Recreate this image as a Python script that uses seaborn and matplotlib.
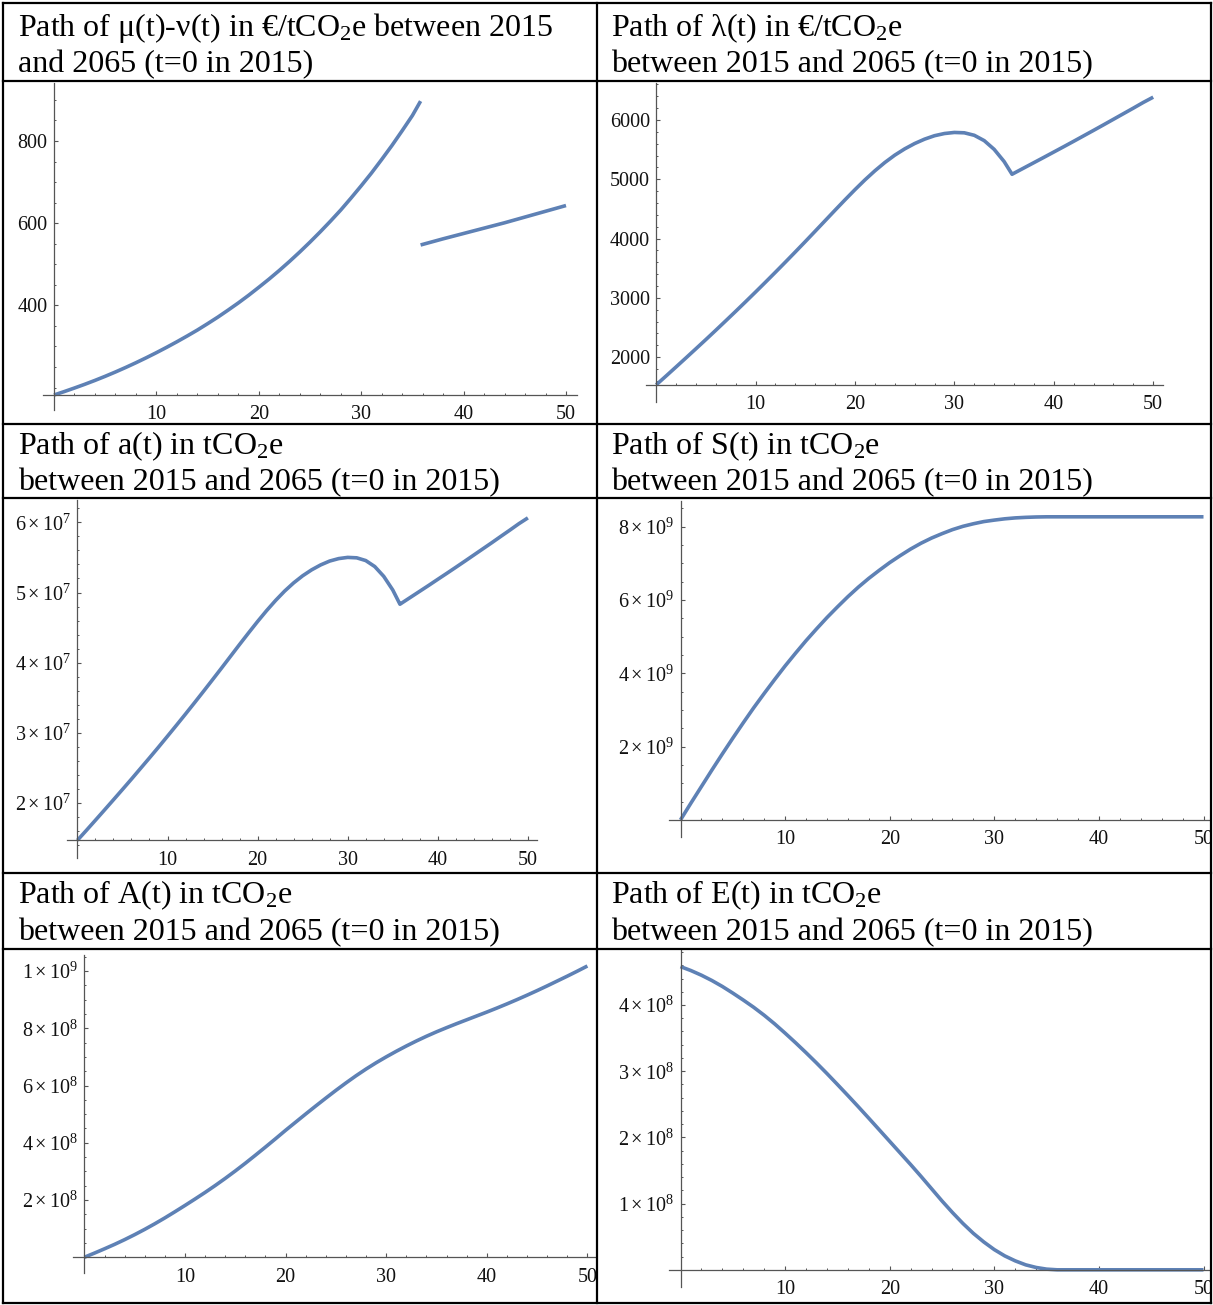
import matplotlib
matplotlib.use("Agg")
import matplotlib.pyplot as plt
import seaborn as sns
from matplotlib.lines import Line2D
from matplotlib.patches import Rectangle

# ---------------- data (t = years after 2015) ----------------
# mu(t) - nu(t), EUR/tCO2e : two branches with a jump near t = 35.8
mn_t1 = list(range(0, 36)) + [35.8]
mn_v1 = [182, 190.3, 199, 208, 217.5, 227.5, 238, 249, 260.5, 272.5, 285, 298, 311.5, 325.5,
         340, 355.5, 371.5, 388.5, 406, 424.5, 444, 464, 485, 507, 530, 554, 579, 605, 632,
         661, 691, 722, 755, 789, 825, 862, 897]
mn_t2 = [35.8, 38, 40, 42, 44, 46, 48, 50]
mn_v2 = [547, 562, 575, 588, 601, 615, 629, 643]

# lambda(t), EUR/tCO2e : kink at t = 35.8
lam_t = list(range(0, 36)) + [35.8] + list(range(36, 51))
lam_v = [1534, 1684, 1836, 1989, 2143, 2298, 2455, 2614, 2774, 2936, 3100, 3266, 3434, 3604,
         3776, 3950, 4126, 4303, 4480, 4655, 4826, 4990, 5143, 5283, 5407, 5513, 5603, 5677,
         5735, 5772, 5790, 5784, 5742, 5652, 5505, 5300, 5085,
         5103, 5192, 5281, 5370, 5460, 5550, 5641, 5733, 5825, 5918, 6012, 6106, 6200, 6296,
         6385]

# a(t), tCO2e
a_t = lam_t
a_v = [1.470e7, 1.612e7, 1.756e7, 1.901e7, 2.047e7, 2.194e7, 2.342e7, 2.493e7, 2.644e7,
       2.797e7, 2.953e7, 3.110e7, 3.269e7, 3.430e7, 3.593e7, 3.758e7, 3.924e7, 4.092e7,
       4.260e7, 4.425e7, 4.587e7, 4.742e7, 4.887e7, 5.020e7, 5.137e7, 5.238e7, 5.323e7,
       5.393e7, 5.448e7, 5.483e7, 5.500e7, 5.494e7, 5.455e7, 5.370e7, 5.230e7, 5.036e7,
       4.833e7,
       4.850e7, 4.934e7, 5.018e7, 5.102e7, 5.188e7, 5.273e7, 5.359e7, 5.446e7, 5.534e7,
       5.622e7, 5.710e7, 5.800e7, 5.889e7, 5.980e7, 6.063e7]

# S(t), tCO2e
s_t = list(range(0, 37)) + [40, 45, 50]
s_v = [0, 0.46e9, 0.91e9, 1.36e9, 1.80e9, 2.23e9, 2.65e9, 3.06e9, 3.45e9, 3.83e9, 4.20e9,
       4.55e9, 4.89e9, 5.21e9, 5.52e9, 5.81e9, 6.09e9, 6.35e9, 6.59e9, 6.81e9, 7.02e9,
       7.21e9, 7.39e9, 7.55e9, 7.69e9, 7.81e9, 7.92e9, 8.01e9, 8.08e9, 8.14e9, 8.18e9,
       8.215e9, 8.24e9, 8.255e9, 8.265e9, 8.27e9, 8.27e9, 8.27e9, 8.27e9, 8.27e9]

# A(t), tCO2e
A_t = list(range(0, 51))
A_v = [0, 0.145e8, 0.295e8, 0.45e8, 0.615e8, 0.79e8, 0.975e8, 1.17e8, 1.375e8, 1.59e8,
       1.81e8, 2.035e8, 2.265e8, 2.505e8, 2.755e8, 3.015e8, 3.285e8, 3.565e8, 3.85e8, 4.14e8,
       4.435e8, 4.72e8, 5.005e8, 5.285e8, 5.56e8, 5.83e8, 6.09e8, 6.34e8, 6.575e8, 6.795e8,
       7.0e8, 7.195e8, 7.38e8, 7.555e8, 7.72e8, 7.875e8, 8.02e8, 8.16e8, 8.295e8, 8.43e8,
       8.565e8, 8.705e8, 8.85e8, 9.0e8, 9.155e8, 9.315e8, 9.48e8, 9.65e8, 9.82e8, 9.995e8,
       10.175e8]

# E(t), tCO2e
E_t = list(range(0, 37)) + [40, 45, 50]
E_v = [4.58e8, 4.52e8, 4.45e8, 4.37e8, 4.28e8, 4.18e8, 4.075e8, 3.965e8, 3.845e8, 3.715e8,
       3.575e8, 3.43e8, 3.28e8, 3.125e8, 2.965e8, 2.80e8, 2.633e8, 2.463e8, 2.29e8, 2.115e8,
       1.94e8, 1.765e8, 1.59e8, 1.41e8, 1.225e8, 1.04e8, 0.865e8, 0.70e8, 0.55e8, 0.42e8,
       0.305e8, 0.21e8, 0.135e8, 0.075e8, 0.035e8, 0.01e8, 0, 0, 0, 0]

titles = [
    ["Path of μ(t)-ν(t) in €/tCO$_2$e between 2015", "and 2065 (t=0 in 2015)"],
    ["Path of λ(t) in €/tCO$_2$e", "between 2015 and 2065 (t=0 in 2015)"],
    ["Path of a(t) in tCO$_2$e", "between 2015 and 2065 (t=0 in 2015)"],
    ["Path of S(t) in tCO$_2$e", "between 2015 and 2065 (t=0 in 2015)"],
    ["Path of A(t) in tCO$_2$e", "between 2015 and 2065 (t=0 in 2015)"],
    ["Path of E(t) in tCO$_2$e", "between 2015 and 2065 (t=0 in 2015)"],
]

x_major = [10, 20, 30, 40, 50]

# ---------------- style ----------------
W, H = 1213, 1305
LINE_C = "#5E81B5"
AX_C = "#555555"

sns.set_theme(style="white")
plt.rcParams["font.family"] = ["Liberation Serif", "DejaVu Serif"]
plt.rcParams["mathtext.fontset"] = "custom"
plt.rcParams["mathtext.rm"] = "Liberation Serif"
plt.rcParams["mathtext.it"] = "Liberation Serif:italic"
plt.rcParams["mathtext.bf"] = "Liberation Serif:bold"
plt.rcParams["mathtext.default"] = "regular"

fig = plt.figure(figsize=(W / 100, H / 100), dpi=100)
fig.patch.set_facecolor("white")


def make_axes(left, right, top, bottom, x0, sx, yref, yref_px, sy):
    ax = fig.add_axes([left / W, 1 - bottom / H, (right - left) / W, (bottom - top) / H])
    ax.set_xlim((left - x0) / sx, (right - x0) / sx)
    ax.set_ylim(yref - (bottom - yref_px) / sy, yref + (yref_px - top) / sy)
    ax.patch.set_visible(False)
    return ax


def style_axes(ax, cross, y_major, y_labels, y_minor):
    for side in ("top", "right"):
        ax.spines[side].set_visible(False)
    ax.spines["left"].set_position(("data", 0))
    ax.spines["bottom"].set_position(("data", cross))
    for side in ("left", "bottom"):
        ax.spines[side].set_color(AX_C)
        ax.spines[side].set_linewidth(0.9)
    ax.set_xticks(x_major)
    ax.set_xticklabels([str(v) for v in x_major])
    ax.set_xticks([v for v in range(2, 52, 2) if v not in x_major], minor=True)
    ax.set_yticks(y_major)
    ax.set_yticklabels(y_labels)
    ax.set_yticks([v for v in y_minor if v not in y_major], minor=True)
    ax.tick_params(axis="both", which="both", bottom=True, left=True, top=False, right=False)
    ax.tick_params(axis="both", which="major", direction="in", length=3.0, width=0.8,
                   color=AX_C, labelsize=14.5, labelcolor="#111111")
    ax.tick_params(axis="both", which="minor", direction="in", length=1.7, width=0.7, color=AX_C)
    ax.tick_params(axis="x", which="major", pad=7.5)
    ax.tick_params(axis="y", which="major", pad=4.5)
    ax.set_xlabel("")
    ax.set_ylabel("")


def draw(ax, t, v):
    sns.lineplot(x=t, y=v, ax=ax, color=LINE_C, linewidth=2.6, sort=False, estimator=None,
                 solid_capstyle="butt", solid_joinstyle="round")


def sci(m, e):
    return r"$%d\times10^{%d}$" % (m, e)


# panel 1: mu - nu
ax1 = make_axes(43, 577, 83, 410, 54, 10.24, 800, 141, 0.411)
draw(ax1, mn_t1, mn_v1)
draw(ax1, mn_t2, mn_v2)
style_axes(ax1, mn_v1[0], [400, 600, 800], ["400", "600", "800"],
           list(range(200, 950, 50)))

# panel 2: lambda
ax2 = make_axes(646, 1163, 83, 402, 656.2, 9.94, 6000, 120, 0.0593)
draw(ax2, lam_t, lam_v)
style_axes(ax2, lam_v[0], [2000, 3000, 4000, 5000, 6000],
           ["2000", "3000", "4000", "5000", "6000"], list(range(1600, 6601, 200)))

# panel 3: a
ax3 = make_axes(67, 537, 500, 858, 77.4, 9.01, 6e7, 522.3, 70.2 / 1e7)
draw(ax3, a_t, a_v)
style_axes(ax3, a_v[0], [2e7, 3e7, 4e7, 5e7, 6e7], [sci(k, 7) for k in (2, 3, 4, 5, 6)],
           [k * 2e6 for k in range(7, 32)])

# panel 4: S
ax4 = make_axes(669, 1220, 501, 837, 680.5, 10.46, 8e9, 526.7, 73.3 / 2e9)
draw(ax4, s_t, s_v)
style_axes(ax4, 0, [2e9, 4e9, 6e9, 8e9], [sci(k, 9) for k in (2, 4, 6, 8)],
           [k * 5e8 for k in range(1, 18)])

# panel 5: A
ax5 = make_axes(73, 600, 955, 1273, 84.4, 10.06, 1e9, 971, 57.25 / 2e8)
draw(ax5, A_t, A_v)
style_axes(ax5, 0, [2e8, 4e8, 6e8, 8e8, 1e9],
           [sci(2, 8), sci(4, 8), sci(6, 8), sci(8, 8), sci(1, 9)],
           [k * 5e7 for k in range(1, 22)])

# panel 6: E
ax6 = make_axes(669, 1220, 950, 1287, 680.5, 10.46, 4e8, 1005, 66.2 / 1e8)
draw(ax6, E_t, E_v)
style_axes(ax6, 0, [1e8, 2e8, 3e8, 4e8], [sci(k, 8) for k in (1, 2, 3, 4)],
           [k * 2e7 for k in range(1, 25)])

# ---------------- table frame ----------------
# cells clip their contents at the grid lines
for (x, y, w, h) in [(1210, 0, 10, H), (597, 949, 12, 360)]:
    fig.add_artist(Rectangle((x / W, 1 - (y + h) / H), w / W, h / H, transform=fig.transFigure,
                             facecolor="white", edgecolor="none", zorder=15))

xl, xm, xr = 3, 597, 1211
rows = [3, 81, 424, 498, 873, 949, 1303]
for y in rows:
    fig.add_artist(Line2D([xl / W, xr / W], [1 - y / H] * 2, transform=fig.transFigure,
                          color="black", linewidth=1.6, zorder=20, solid_capstyle="projecting"))
for x in (xl, xm, xr):
    fig.add_artist(Line2D([x / W] * 2, [1 - rows[0] / H, 1 - rows[-1] / H],
                          transform=fig.transFigure, color="black", linewidth=1.6, zorder=20,
                          solid_capstyle="projecting"))

# ---------------- titles ----------------
baselines = [(36, 72.5), (454, 490), (903.5, 940)]
for i, (l1, l2) in enumerate(titles):
    r, c = divmod(i, 2)
    x = 18 if c == 0 else 611
    b1, b2 = baselines[r]
    fig.text(x / W, 1 - b1 / H, l1, fontsize=23, va="baseline", ha="left", color="black")
    fig.text(x / W, 1 - b2 / H, l2, fontsize=23, va="baseline", ha="left", color="black")

fig.savefig("out.png", dpi=100, facecolor="white")
